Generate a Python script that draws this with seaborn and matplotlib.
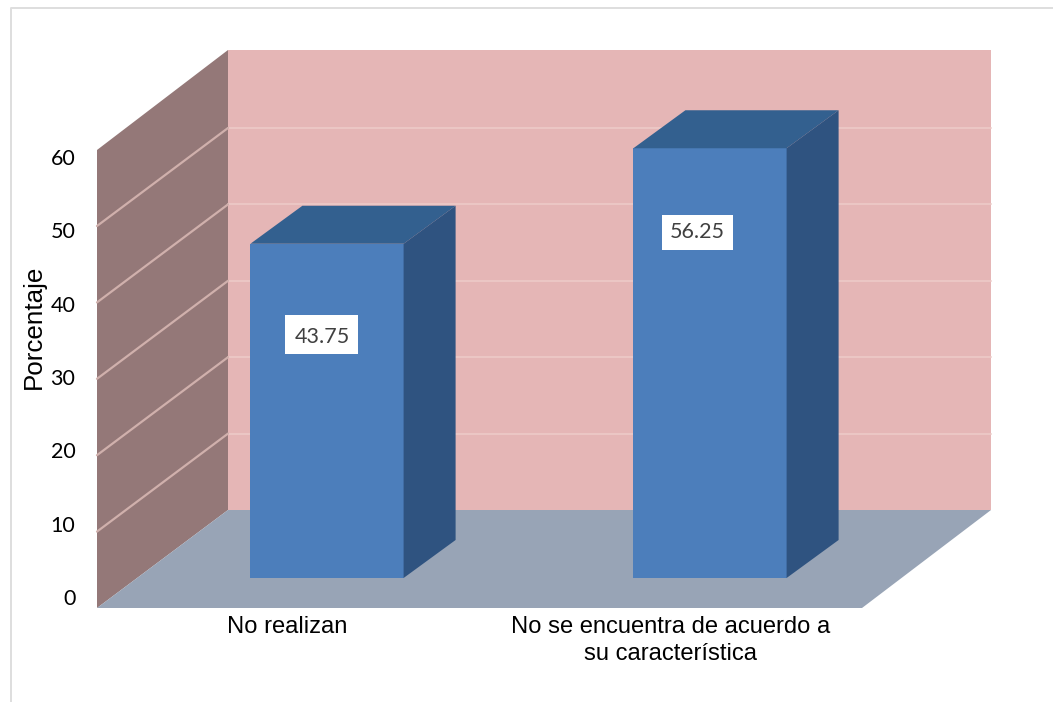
import matplotlib
matplotlib.use("Agg")
import matplotlib.pyplot as plt
import pandas as pd
import seaborn as sns
from matplotlib.lines import Line2D
from matplotlib.patches import Polygon, Rectangle

# ---- data ----
categories = ["No realizan", "No se encuentra de acuerdo a\nsu característica"]
values = [43.75, 56.25]
value_labels = ["43.75", "56.25"]
yticks = [0, 10, 20, 30, 40, 50, 60]
y_label = "Porcentaje"
wall_grid = [10, 20, 30, 40, 50]

# ---- style ----
W, H = 1053, 702
FRONT, TOP, SIDE = "#4C7EBB", "#33608F", "#2F5380"
WALL, LEFT, FLOOR = "#E5B6B6", "#947878", "#98A4B6"
GRID_BACK, GRID_LEFT = "#ECC8C6", "#D0B0AC"

sns.set_theme(style="white", rc={"font.family": ["Liberation Sans", "DejaVu Sans"]})
fig = plt.figure(figsize=(W / 100, H / 100), dpi=100, facecolor="white")


def axes_px(x0, y_top, x1, y_bot):
    return fig.add_axes([x0 / W, 1 - y_bot / H, (x1 - x0) / W, (y_bot - y_top) / H])


# Main axes: bottom edge on the chart floor's front edge
PX_UNIT = 7.64        # pixels per percent
BASE_PX = 578         # pixel row of value 0 on the bars
BOT_PX = 608
CAT_PX = 383          # pixels between categories
CAT0_PX = 327         # pixel column of first category
ax = axes_px(0, 0, W, BOT_PX)
ax.set_xlim(-CAT0_PX / CAT_PX, (W - CAT0_PX) / CAT_PX)
ax.set_ylim(-(BOT_PX - BASE_PX) / PX_UNIT, BASE_PX / PX_UNIT)
ax.patch.set_alpha(0)


def X(px):
    return (px - CAT0_PX) / CAT_PX


def Y(py):
    return (BASE_PX - py) / PX_UNIT


# Room: back wall, side wall, floor
L0, L1, R0, R1 = 97, 228, 862, 991
FLOOR_BACK, FLOOR_FRONT, TOP_BACK, TOP_FRONT = 510, BOT_PX, 50, 150
ax.add_patch(Polygon([(X(L1), Y(TOP_BACK)), (X(R1), Y(TOP_BACK)),
                      (X(R1), Y(FLOOR_BACK)), (X(L1), Y(FLOOR_BACK))],
                     fc=WALL, ec="none", zorder=1))
ax.add_patch(Polygon([(X(L0), Y(TOP_FRONT)), (X(L1), Y(TOP_BACK)),
                      (X(L1), Y(FLOOR_BACK)), (X(L0), Y(FLOOR_FRONT))],
                     fc=LEFT, ec="none", zorder=1))
ax.add_patch(Polygon([(X(L0), Y(FLOOR_FRONT)), (X(L1), Y(FLOOR_BACK)),
                      (X(R1), Y(FLOOR_BACK)), (X(R0), Y(FLOOR_FRONT))],
                     fc=FLOOR, ec="none", zorder=1))
for g in wall_grid:
    back = FLOOR_BACK - g * PX_UNIT
    front = FLOOR_FRONT - g * PX_UNIT
    ax.add_line(Line2D([X(L1), X(R1)], [Y(back), Y(back)],
                       color=GRID_BACK, lw=1.3, zorder=1.5))
    ax.add_line(Line2D([X(L0), X(L1)], [Y(front), Y(back)],
                       color=GRID_LEFT, lw=1.6, zorder=1.5))

# Bars through seaborn
df = pd.DataFrame({"categoria": categories, "porcentaje": values})
sns.barplot(data=df, x="categoria", y="porcentaje", color=FRONT, saturation=1,
            width=0.4, ax=ax, zorder=3)
ax.set_xlim(-CAT0_PX / CAT_PX, (W - CAT0_PX) / CAT_PX)

# 3D extrusion derived from each bar
DX, DY = 52 / CAT_PX, 38 / PX_UNIT
for bar in list(ax.patches):
    if not isinstance(bar, Rectangle):
        continue
    x0, w, h = bar.get_x(), bar.get_width(), bar.get_height()
    bar.set_edgecolor("none")
    x1 = x0 + w
    ax.add_patch(Polygon([(x0, h), (x1, h), (x1 + DX, h + DY), (x0 + DX, h + DY)],
                         fc=TOP, ec="none", zorder=3))
    ax.add_patch(Polygon([(x1, 0), (x1 + DX, DY), (x1 + DX, h + DY), (x1, h)],
                         fc=SIDE, ec="none", zorder=3))

# Data labels on white boxes
label_px = [(322, 337), (697.5, 232)]
box_px = [(285, 315, 73, 39), (662, 215, 71, 35)]
for (tx, ty), (bx, by, bw, bh), txt in zip(label_px, box_px, value_labels):
    ax.add_patch(Rectangle((X(bx), Y(by + bh)), bw / CAT_PX, bh / PX_UNIT,
                           fc="white", ec="none", zorder=4))
    ax.text(X(tx), Y(ty), txt, ha="center", va="center", family="Lato",
            fontsize=15.5, color="#404040", zorder=5)

# Category labels
sns.despine(ax=ax, left=True, bottom=True, top=True, right=True)
ax.set_xticks([X(287.5), X(670.5)], categories, linespacing=1.3)
ax.set_yticks([])
ax.set_xlabel("")
ax.set_ylabel("")
ax.tick_params(axis="x", length=0, pad=5.5, labelsize=17.1, labelcolor="black")

# Percent scale on its own axes
ay = axes_px(97, 157, 98, 597)
ay.set_ylim(yticks[0], yticks[-1])
ay.set_yticks(yticks)
ay.set_yticklabels([str(t) for t in yticks], family="Lato", fontsize=15.5, color="black")
ay.set_xticks([])
ay.tick_params(axis="y", length=0, pad=15.5)
ay.patch.set_alpha(0)
sns.despine(ax=ay, left=True, bottom=True, top=True, right=True)
fig.text(34 / W, 1 - 327 / H, y_label, rotation=90, ha="center", va="center",
         fontsize=18.7, color="black")

# Outer frame
fig.add_artist(Line2D([1, 11 / W, 11 / W], [1 - 8 / H, 1 - 8 / H, 0],
                      color="#DEDEDE", lw=1.4, transform=fig.transFigure))

fig.savefig("out.png", dpi=100, facecolor="white")
